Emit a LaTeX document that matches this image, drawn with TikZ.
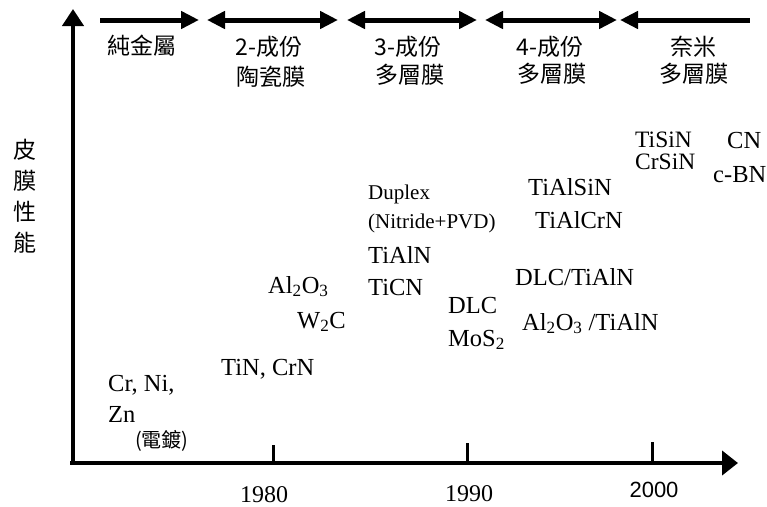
\documentclass[tikz,border=0pt]{standalone}
\usepackage{fontspec}
\setmainfont{Liberation Serif}
\newfontfamily\cjk{Noto Sans CJK TC}
\newfontfamily\arialf{Liberation Sans}
\usetikzlibrary{arrows.meta}
\begin{document}
\begin{tikzpicture}[x=1pt,y=-1pt,
  axis/.style={line width=4.5pt},
  tickline/.style={line width=3pt},
  period/.style={line width=5pt},
  ptip/.tip={Triangle[length=18pt,width=17pt]},
  lab/.style={inner sep=0pt,anchor=base west,font=\fontsize{24.5}{28}\selectfont},
  tightlab/.style={inner sep=0pt,anchor=base west,font=\fontsize{23.5}{27}\selectfont,text height=16pt,text depth=0.5pt},
  smalllab/.style={inner sep=0pt,anchor=base west,font=\fontsize{21}{24}\selectfont},
  yearlab/.style={inner sep=0pt,anchor=base,font=\fontsize{24}{28}\selectfont},
  cjklab/.style={inner sep=0pt,anchor=center,font=\cjk\fontsize{23}{27}\selectfont},
]
\useasboundingbox (0,0) rectangle (767,506);
% axes
\coordinate (O) at (70,463);
\coordinate (Ytop) at (73,9);
\coordinate (Ybot) at (73,465);
\coordinate (Xend) at (738,463);
\draw[axis,-{Triangle[length=17pt,width=21pt]}] (Ybot) -- (Ytop);
\draw[axis,-{Triangle[length=16pt,width=24pt]}] (O) -- (Xend);
% ticks
\coordinate (t1a) at (273,463); \coordinate (t1b) at (273,445);
\coordinate (t2a) at (467,463); \coordinate (t2b) at (467,443);
\coordinate (t3a) at (652,463); \coordinate (t3b) at (652,442);
\draw[tickline] (t1a) -- (t1b);
\draw[tickline] (t2a) -- (t2b);
\draw[tickline] (t3a) -- (t3b);
% years
\node[yearlab] (y1980) at (264,502) {1980};
\node[yearlab] (y1990) at (469,501) {1990};
\node[yearlab,font=\arialf\fontsize{22}{26}\selectfont] (y2000) at (654,497) {2000};
% period arrows
\coordinate (a1s) at (100,20); \coordinate (a1e) at (199,20);
\coordinate (a2s) at (207,20); \coordinate (a2e) at (338,20);
\coordinate (a3s) at (347,20); \coordinate (a3e) at (477,20);
\coordinate (a4s) at (485,20); \coordinate (a4e) at (617,20);
\coordinate (a5s) at (620,20); \coordinate (a5e) at (750,20);
\draw[period,-ptip] (a1s) -- (a1e);
\draw[period,ptip-ptip] (a2s) -- (a2e);
\draw[period,ptip-ptip] (a3s) -- (a3e);
\draw[period,ptip-ptip] (a4s) -- (a4e);
\draw[period,ptip-] (a5s) -- (a5e);
% period labels
\node[cjklab] (p1) at (142,46) {純金屬};
\node[cjklab] (p2a) at (269,47) {2-成份};
\node[cjklab] (p2b) at (271,77) {陶瓷膜};
\node[cjklab] (p3a) at (408,47) {3-成份};
\node[cjklab] (p3b) at (410,75) {多層膜};
\node[cjklab] (p4a) at (550,47) {4-成份};
\node[cjklab] (p4b) at (552,74) {多層膜};
\node[cjklab] (p5a) at (693,47) {奈米};
\node[cjklab] (p5b) at (694,74) {多層膜};
% y label
\node[cjklab] (yl1) at (25,150) {皮};
\node[cjklab] (yl2) at (25,181) {膜};
\node[cjklab] (yl3) at (25,212) {性};
\node[cjklab] (yl4) at (25,243) {能};
% materials
\node[lab] (crni) at (108,391) {Cr, Ni,};
\node[lab] (zn) at (108,422) {Zn};
\node[inner sep=0pt,anchor=base west,font=\cjk\fontsize{20}{24}\selectfont] (plating) at (135,447) {(電鍍)};
\node[lab] (tincrn) at (221,375) {TiN, CrN};
\node[lab] (alo) at (268,293) {Al\textsubscript{2}O\textsubscript{3}};
\node[lab] (wc) at (297,328) {W\textsubscript{2}C};
\node[smalllab] (duplex) at (368,199) {Duplex};
\node[smalllab] (nitride) at (368,228) {(Nitride+PVD)};
\node[lab] (tialn) at (368,263) {TiAlN};
\node[lab] (ticn) at (368,295) {TiCN};
\node[lab] (dlc) at (448,313) {DLC};
\node[lab] (mos) at (448,346) {MoS\textsubscript{2}};
\node[lab] (tialsin) at (528,195) {TiAlSiN};
\node[lab] (tialcrn) at (535,228) {TiAlCrN};
\node[lab] (dlctialn) at (515,285) {DLC/TiAlN};
\node[lab] (alotialn) at (522,330) {Al\textsubscript{2}O\textsubscript{3} /TiAlN};
\node[tightlab] (tisin) at (635,147) {TiSiN};
\node[tightlab] (crsin) at (635,169) {CrSiN};
\node[lab] (cn) at (727,148) {CN};
\node[lab] (cbn) at (713,182) {c-BN};
\end{tikzpicture}
\end{document}
